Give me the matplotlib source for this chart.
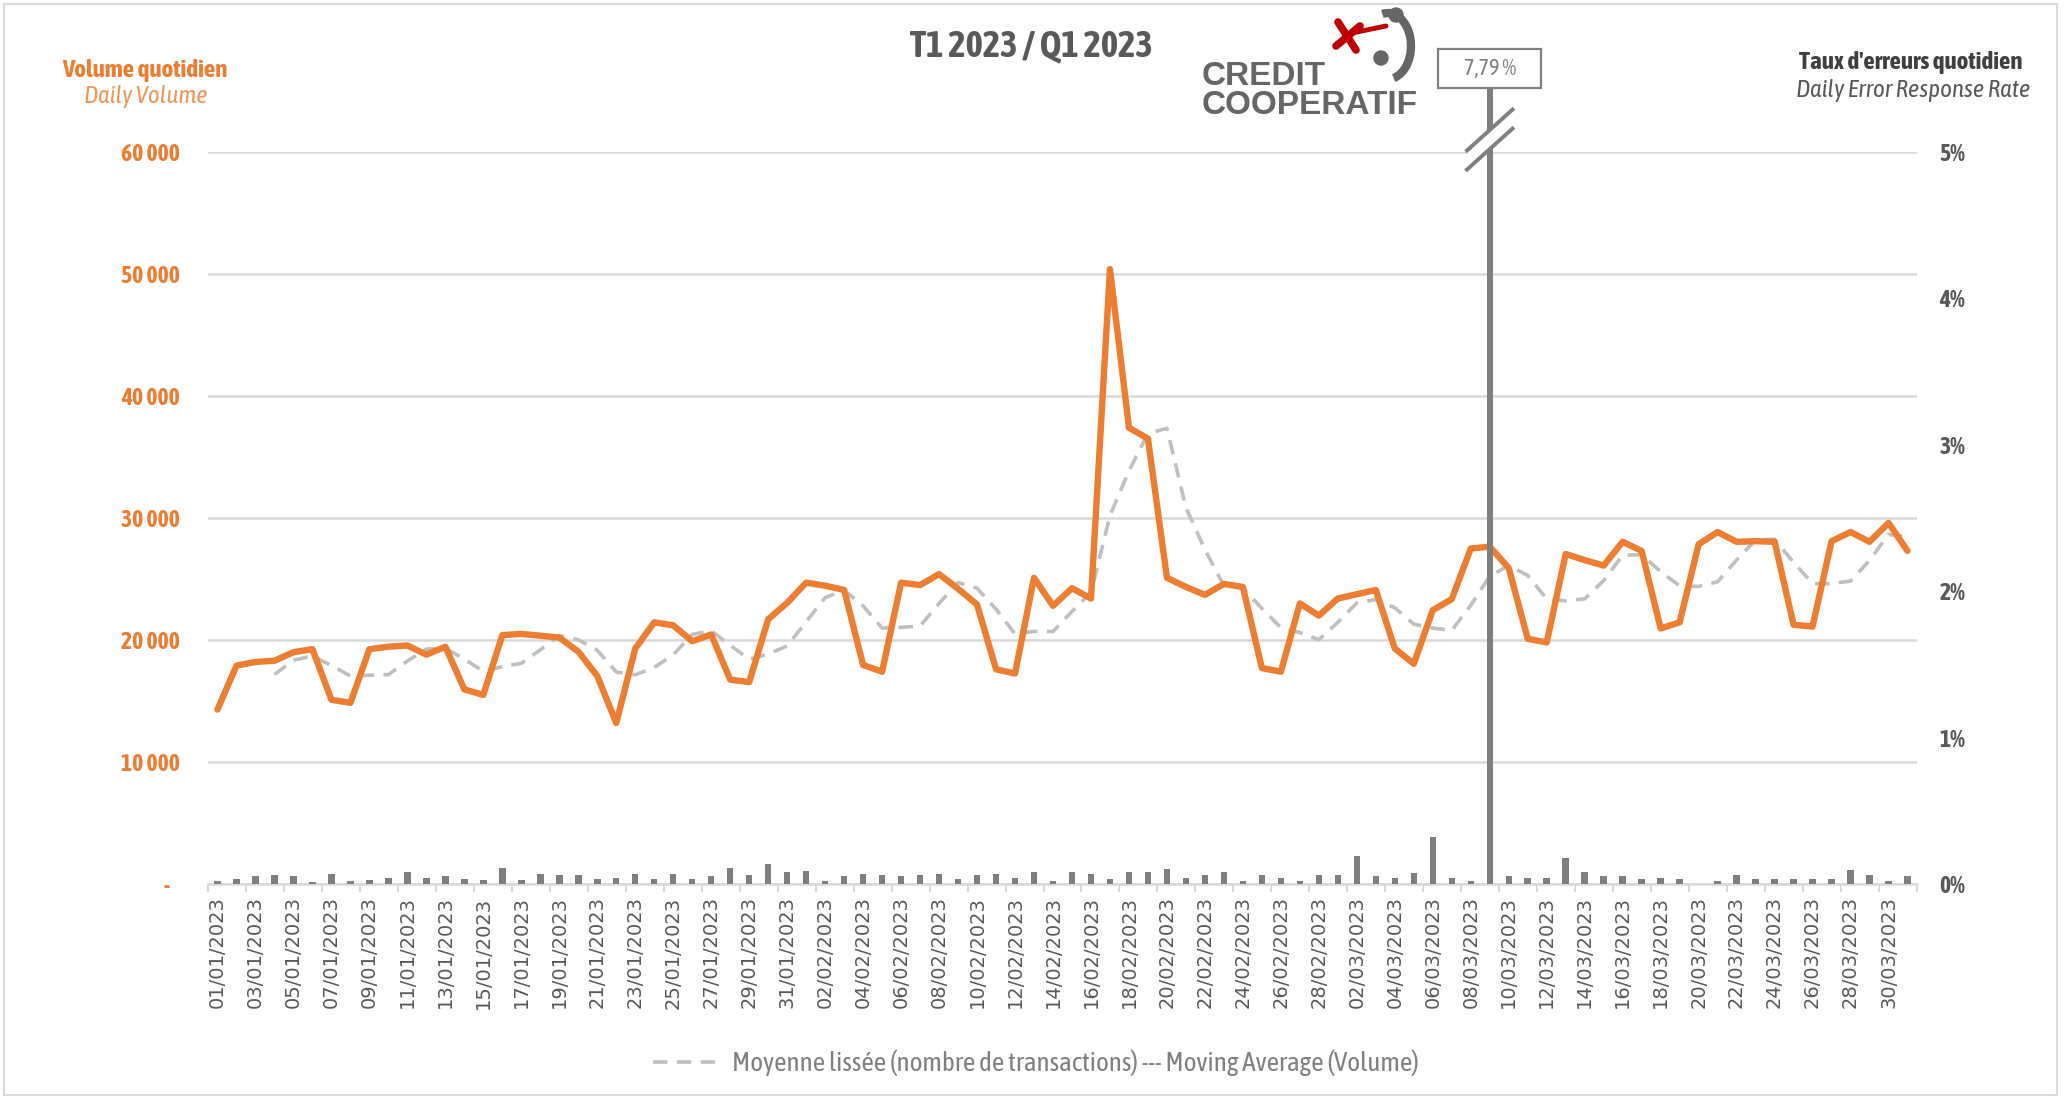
import numpy as np
import pandas as pd
import matplotlib
matplotlib.use('Agg')
import matplotlib.pyplot as plt
from matplotlib import font_manager as fm
from matplotlib.ticker import FuncFormatter
from matplotlib.patches import Rectangle, Polygon, Arc, Circle
from matplotlib.lines import Line2D
from matplotlib.transforms import Affine2D

# ---------------- data ----------------
dates = pd.date_range('2023-01-01', '2023-03-31', freq='D')
date_labels = [d.strftime('%d/%m/%Y') for d in dates]

volume = [14300, 17900, 18200, 18300, 19000, 19250, 15100, 14850, 19250, 19450,
          19550, 18800, 19450, 15950, 15500, 20400, 20500, 20350, 20200, 19050,
          17050, 13200, 19300, 21450, 21200, 19900, 20450, 16750, 16550, 21700,
          23050, 24700, 24450, 24100, 17950, 17400, 24700, 24500, 25400, 24200,
          22900, 17600, 17250, 25100, 22800, 24250, 23400, 50400, 37400, 36500,
          25100, 24350, 23700, 24600, 24350, 17700, 17400, 23000, 22000, 23400,
          23750, 24100, 19300, 18050, 22450, 23350, 27500, 27650, 25900, 20100,
          19800, 27050, 26550, 26100, 28050, 27300, 20950, 21450, 27850, 28850,
          28050, 28100, 28050, 21250, 21100, 28100, 28850, 28050, 29600, 27300]

# moving average (period 4) starting on 04/01/2023
moving_avg = [17175, 18350, 18690, 17910, 17050, 17110, 17160, 18275, 19260, 19310,
              18440, 17425, 17825, 18090, 19190, 20360, 20025, 19160, 17375, 17150,
              17750, 18790, 20460, 20750, 19575, 18410, 18860, 19510, 21500, 23475,
              24075, 22800, 20975, 21040, 21140, 23000, 24700, 24250, 22525, 20490,
              20710, 20690, 22350, 23890, 30210, 33860, 36925, 37350, 30840, 27410,
              24440, 24250, 22590, 21010, 20610, 20025, 21450, 23040, 23310, 22640,
              21300, 20975, 20790, 22840, 25240, 26100, 25290, 23360, 23210, 23375,
              24875, 26940, 27000, 25600, 24440, 24390, 24775, 26550, 28210, 28260,
              26360, 24625, 24625, 24825, 26525, 28650, 28450]
ma_start = 3

error_rate = [0.023, 0.033, 0.053, 0.063, 0.053, 0.015, 0.070, 0.018, 0.025, 0.043,
              0.080, 0.043, 0.053, 0.033, 0.025, 0.110, 0.025, 0.070, 0.063, 0.063,
              0.033, 0.043, 0.070, 0.033, 0.070, 0.033, 0.053, 0.110, 0.063, 0.140,
              0.080, 0.090, 0.023, 0.053, 0.070, 0.063, 0.053, 0.063, 0.070, 0.033,
              0.063, 0.070, 0.043, 0.080, 0.023, 0.080, 0.070, 0.033, 0.080, 0.080,
              0.100, 0.043, 0.063, 0.080, 0.023, 0.063, 0.043, 0.023, 0.063, 0.063,
              0.190, 0.054, 0.044, 0.072, 0.320, 0.044, 0.023, 7.790, 0.054, 0.044,
              0.044, 0.180, 0.082, 0.054, 0.054, 0.033, 0.044, 0.033, 0.000, 0.023,
              0.064, 0.033, 0.033, 0.033, 0.033, 0.033, 0.093, 0.064, 0.023, 0.054]

# ---------------- style ----------------
avail = {f.name for f in fm.fontManager.ttflist}
NARROW = 'Liberation Sans'
for cand in ['Asap Condensed', 'Archivo Narrow', 'Barlow Semi Condensed']:
    if cand in avail:
        NARROW = cand
        break
ORANGE = '#ED7D31'
GRID = '#D9D9D9'
DARK = '#595959'
BAR = '#7F7F7F'
BREAK_TOP = 5.44  # visual top of the broken bar (axis units)

W, H = 2066, 1099
fig = plt.figure(figsize=(W / 100, H / 100), dpi=100)
fig.patch.set_facecolor('white')


def fx(px):
    return px / W


def fy(py):
    return 1 - py / H


pxT = Affine2D().scale(1, -1).translate(0, H)

ax = fig.add_axes([fx(208), fy(884), fx(1917) - fx(208), fy(152) - fy(884)])
ax2 = ax.twinx()

idx = np.arange(len(volume))

# lines
ax.plot(idx, volume, color=ORANGE, lw=4.6, solid_joinstyle='round',
        solid_capstyle='round', zorder=3)
ma_line, = ax.plot(idx[ma_start:], moving_avg, color='#BFBFBF', lw=2.6,
                   dashes=(4, 2.6), zorder=2,
                   label='Moyenne lissée (nombre de transactions) --- Moving Average (Volume)')

# bars (secondary axis)
disp = [min(v, BREAK_TOP) for v in error_rate]
bars = ax2.bar(idx, disp, width=0.34, color=BAR, zorder=2)
for b in bars:
    b.set_clip_on(False)

# axis break on the outlier bar
k = int(np.argmax(error_rate))
poly = Polygon([(k - 1.2, 4.88), (k + 1.2, 5.16), (k + 1.2, 5.29), (k - 1.2, 5.01)],
               closed=True, facecolor='white', edgecolor='none', zorder=5, clip_on=False)
ax2.add_patch(poly)
for y0, y1 in [(4.88, 5.16), (5.01, 5.29)]:
    ax2.add_line(Line2D([k - 1.2, k + 1.2], [y0, y1], color=BAR, lw=2.8,
                        zorder=6, clip_on=False))

# value box
bw = 2.71
ax2.add_patch(Rectangle((k - bw, 5.437), 2 * bw, 0.267, facecolor='white',
                        edgecolor=BAR, lw=1.6, zorder=6, clip_on=False))
ax2.text(k, 5.57, f'{error_rate[k]:.2f} %'.replace('.', ','), ha='center', va='center',
         fontsize=16, color=BAR, family=NARROW, zorder=7, clip_on=False)

# axes limits / ticks
ax.set_xlim(-0.5, len(volume) - 0.5)
ax.set_ylim(0, 60000)
ax2.set_ylim(0, 5)

ax.set_yticks(np.arange(0, 60001, 10000))
ax.yaxis.set_major_formatter(FuncFormatter(
    lambda v, p: '-   ' if v == 0 else f'{int(v):,}'.replace(',', ' ')))
ax.tick_params(axis='y', length=0, pad=20, labelsize=17, labelcolor=ORANGE)
for t in ax.get_yticklabels():
    t.set_fontfamily(NARROW)
    t.set_fontweight('bold')

ax2.set_yticks(np.arange(0, 6, 1))
ax2.yaxis.set_major_formatter(FuncFormatter(lambda v, p: f'{int(v)}%'))
ax2.tick_params(axis='y', length=0, pad=16, labelsize=17, labelcolor=DARK)
for t in ax2.get_yticklabels():
    t.set_fontfamily(NARROW)
    t.set_fontweight('bold')

ax.set_xticks(idx[::2])
ax.set_xticklabels(date_labels[::2], rotation=90, fontsize=14, color=DARK,
                   family='DejaVu Sans')
ax.set_xticks(np.arange(-0.5, len(volume), 2), minor=True)
ax.tick_params(axis='x', which='major', length=0, pad=9)
ax.tick_params(axis='x', which='minor', length=6, width=1.5, color=GRID)

ax.yaxis.grid(True, color=GRID, lw=1.8, zorder=0)
ax.set_axisbelow(True)
for a in (ax, ax2):
    for s in ('top', 'left', 'right'):
        a.spines[s].set_visible(False)
ax.spines['bottom'].set_color(GRID)
ax.spines['bottom'].set_linewidth(1.8)
ax2.spines['bottom'].set_visible(False)

# ---------------- texts ----------------
fig.text(fx(1031), fy(47), 'T1 2023 / Q1 2023', ha='center', va='center',
         fontsize=26.5, fontweight='bold', color=DARK, family=NARROW)
fig.text(fx(145), fy(70), 'Volume quotidien', ha='center', va='center',
         fontsize=18, fontweight='bold', color=ORANGE, family=NARROW)
fig.text(fx(146), fy(96), 'Daily Volume', ha='center', va='center',
         fontsize=18, style='italic', color='#F2975A', family=NARROW)
fig.text(fx(1911), fy(62), "Taux d'erreurs quotidien", ha='center', va='center',
         fontsize=18, fontweight='bold', color='#404040', family=NARROW)
fig.text(fx(1913), fy(90), 'Daily Error Response Rate', ha='center', va='center',
         fontsize=18, style='italic', color=DARK, family=NARROW)

# legend
leg = fig.legend(handles=[ma_line], loc='center', bbox_to_anchor=(fx(1036), fy(1063)),
                 frameon=False, handlelength=2.45, handletextpad=0.45,
                 prop={'family': NARROW, 'size': 19.5})
for t in leg.get_texts():
    t.set_color('#808080')

# logo (approximation)
fig.text(fx(1202), fy(91), 'CREDIT\nCOOPERATIF', ha='left', va='center',
         multialignment='left', linespacing=0.92, fontsize=24,
         fontweight='bold', color='#666666', family='Liberation Sans')
fig.add_artist(Line2D([1338, 1356], [22, 50], color='#C00000', lw=5.5,
                      solid_capstyle='round', transform=pxT))
fig.add_artist(Line2D([1336, 1360], [46, 26], color='#C00000', lw=5.5,
                      solid_capstyle='round', transform=pxT))
fig.add_artist(Line2D([1352, 1386], [33, 26], color='#C00000', lw=3.5,
                      solid_capstyle='round', transform=pxT))
fig.add_artist(Arc((1388, 46), 46, 66, theta1=-100, theta2=80, color='#666666', lw=6,
                   transform=pxT))
fig.add_artist(Circle((1396, 15), 7, color='#666666', transform=pxT))
fig.add_artist(Circle((1381, 58), 7, color='#666666', transform=pxT))

# outer frame
fig.add_artist(Rectangle((4, 4), 2053, 1091, fill=False, edgecolor=GRID, lw=1.5,
                         transform=pxT))

fig.savefig('out.png', dpi=100, facecolor='white')
